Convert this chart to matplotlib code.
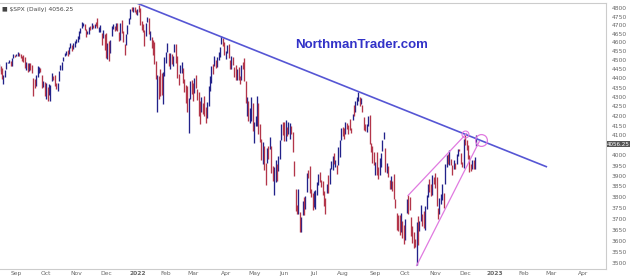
import matplotlib
matplotlib.use("Agg")
import matplotlib.pyplot as plt
import matplotlib.transforms as mtransforms
import numpy as np
import pandas as pd

# NYSE calendar for the span shown on the chart
holidays = ["2021-09-06", "2021-11-25", "2021-12-24", "2022-01-17", "2022-02-21",
            "2022-04-15", "2022-05-30", "2022-06-20", "2022-07-04", "2022-09-05",
            "2022-11-24", "2022-12-26", "2023-01-02", "2023-01-16", "2023-02-20",
            "2023-04-07"]
days = pd.bdate_range("2021-08-16", "2023-04-28", freq="C", holidays=holidays)

# daily $SPX closes, one line per month (Aug 16 2021 .. Dec 13 2022)
closes = [
    4479.7, 4448.1, 4400.3, 4405.8, 4441.7, 4479.5, 4486.2, 4496.2, 4470.0, 4509.4, 4528.8, 4522.7,
    4524.1, 4537.0, 4535.4, 4520.0, 4514.1, 4493.3, 4458.6, 4468.7, 4443.1, 4480.7, 4473.8, 4433.0,
    4357.7, 4354.2, 4395.6, 4449.0, 4455.5, 4443.1, 4352.6, 4359.5, 4307.5,
    4357.0, 4300.5, 4345.7, 4363.6, 4399.8, 4391.3, 4361.2, 4350.7, 4363.8, 4438.3, 4471.4, 4486.5,
    4519.6, 4536.2, 4549.8, 4544.9, 4566.5, 4574.8, 4551.7, 4596.4, 4605.4,
    4613.7, 4630.7, 4660.6, 4680.1, 4697.5, 4701.7, 4685.3, 4646.7, 4649.3, 4682.9, 4682.8, 4700.9,
    4688.7, 4704.5, 4698.0, 4682.9, 4690.7, 4701.5, 4594.6, 4655.3, 4567.0,
    4513.0, 4577.1, 4538.4, 4591.7, 4686.8, 4701.2, 4667.5, 4712.0, 4669.0, 4634.1, 4709.9, 4668.7,
    4620.6, 4568.0, 4649.2, 4696.6, 4725.8, 4791.2, 4786.4, 4793.1, 4778.7, 4766.2,
    4796.6, 4793.5, 4700.6, 4696.1, 4677.0, 4670.3, 4713.1, 4726.4, 4659.0, 4662.9, 4577.1, 4532.8,
    4482.7, 4397.9, 4410.1, 4356.5, 4349.9, 4326.5, 4431.9, 4515.6,
    4546.5, 4589.4, 4477.4, 4500.5, 4483.9, 4521.5, 4587.2, 4504.1, 4418.6, 4401.7, 4471.1, 4475.0,
    4380.3, 4348.9, 4304.8, 4225.5, 4288.7, 4384.7, 4373.9,
    4306.3, 4386.5, 4363.5, 4328.9, 4201.1, 4170.7, 4277.9, 4259.5, 4204.3, 4173.1, 4262.5, 4357.9,
    4411.7, 4463.1, 4461.2, 4511.6, 4456.2, 4520.2, 4543.1, 4575.5, 4631.6, 4602.5, 4530.4,
    4545.9, 4582.6, 4525.1, 4481.2, 4500.2, 4488.3, 4412.5, 4397.5, 4446.6, 4392.6, 4391.7, 4462.2,
    4459.5, 4393.7, 4271.8, 4296.1, 4175.2, 4184.0, 4287.5, 4131.9,
    4155.4, 4175.5, 4300.2, 4146.9, 4123.3, 3991.2, 4001.1, 3935.2, 3930.1, 4023.9, 4008.0, 4088.9,
    3923.7, 3900.8, 3901.4, 3973.8, 3941.5, 3978.7, 4057.8, 4158.2, 4132.2,
    4101.2, 4176.8, 4108.5, 4121.4, 4160.7, 4115.8, 4017.8, 3900.9, 3749.6, 3735.5, 3790.0, 3666.8,
    3674.8, 3764.8, 3759.9, 3795.7, 3911.7, 3900.1, 3821.6, 3818.8, 3785.4,
    3825.3, 3831.4, 3845.1, 3902.6, 3899.4, 3854.4, 3818.8, 3801.8, 3790.4, 3863.2, 3830.9, 3936.7,
    3959.9, 3999.0, 3961.6, 3966.8, 3921.1, 4023.6, 4072.4, 4130.3,
    4118.6, 4091.2, 4155.2, 4151.9, 4145.2, 4140.1, 4122.5, 4210.2, 4207.3, 4280.2, 4297.1, 4305.2,
    4274.0, 4283.7, 4228.5, 4138.0, 4128.7, 4140.8, 4199.1, 4057.7, 4030.6, 3986.2, 3955.0,
    3966.9, 3924.3, 3908.2, 3979.9, 4006.2, 4067.4, 4110.4, 3932.7, 3946.0, 3901.4, 3873.3, 3899.9,
    3855.9, 3789.9, 3758.0, 3693.2, 3655.0, 3647.3, 3719.0, 3640.5, 3585.6,
    3678.4, 3790.9, 3783.3, 3744.5, 3639.7, 3612.4, 3588.8, 3577.0, 3669.9, 3583.1, 3678.0, 3720.0,
    3695.2, 3665.8, 3752.8, 3797.3, 3859.1, 3830.6, 3807.3, 3901.1, 3872.0,
    3856.1, 3759.7, 3719.9, 3770.6, 3806.8, 3828.1, 3748.6, 3956.4, 3992.9, 3957.3, 3991.7, 3958.8,
    3946.6, 3965.3, 3949.9, 4003.6, 4027.3, 4026.1, 3963.9, 3957.6, 4080.1,
    4076.6, 4071.7, 3998.8, 3941.3, 3933.9, 3963.5, 3934.4, 3990.6, 4056.3,
]
highs = [
    4480.3, 4467.9, 4454.3, 4418.6, 4444.4, 4489.9, 4492.8, 4501.0, 4495.9, 4513.3, 4537.4, 4531.4,
    4537.1, 4545.9, 4539.0, 4535.4, 4521.8, 4529.9, 4520.5, 4492.0, 4485.7, 4486.9, 4485.9, 4471.5,
    4402.9, 4394.9, 4416.8, 4465.4, 4463.1, 4457.3, 4419.5, 4385.5, 4382.4,
    4375.2, 4355.5, 4369.2, 4365.6, 4429.0, 4412.0, 4415.9, 4374.9, 4372.9, 4439.7, 4475.8, 4488.8,
    4520.7, 4540.9, 4551.4, 4559.7, 4572.6, 4598.5, 4584.6, 4597.6, 4608.1,
    4620.3, 4635.2, 4663.5, 4683.0, 4718.5, 4714.9, 4708.5, 4679.4, 4666.0, 4688.5, 4697.4, 4714.1,
    4701.5, 4705.7, 4717.8, 4743.8, 4690.7, 4702.9, 4651.7, 4672.9, 4646.0,
    4652.9, 4595.5, 4608.0, 4612.6, 4695.3, 4705.1, 4695.3, 4713.6, 4710.3, 4660.5, 4712.6, 4731.9,
    4666.7, 4591.9, 4651.1, 4697.7, 4740.7, 4791.5, 4807.0, 4804.1, 4808.9, 4787.0,
    4796.6, 4818.6, 4797.7, 4725.0, 4707.9, 4673.0, 4714.1, 4749.0, 4744.1, 4665.1, 4632.2, 4611.6,
    4602.1, 4494.5, 4417.4, 4411.0, 4453.2, 4428.7, 4432.7, 4516.9,
    4546.5, 4595.3, 4542.9, 4539.7, 4533.9, 4524.4, 4590.0, 4588.9, 4526.3, 4426.2, 4472.8, 4489.6,
    4456.1, 4394.6, 4362.1, 4356.4, 4294.7, 4385.3, 4388.8,
    4375.4, 4401.5, 4416.8, 4342.1, 4327.0, 4276.9, 4299.4, 4268.3, 4303.0, 4247.6, 4271.1, 4358.9,
    4412.5, 4465.4, 4481.8, 4522.0, 4501.1, 4520.6, 4546.0, 4575.7, 4637.3, 4627.0, 4603.1,
    4549.0, 4583.5, 4593.5, 4503.9, 4521.2, 4520.6, 4464.4, 4471.0, 4453.9, 4460.5, 4410.4, 4471.0,
    4488.3, 4512.9, 4386.0, 4299.0, 4278.1, 4240.7, 4299.0, 4269.7,
    4169.8, 4200.1, 4307.7, 4270.4, 4157.7, 4081.3, 4066.8, 4049.1, 3964.8, 4038.9, 4046.5, 4090.7,
    4045.3, 3945.9, 3943.7, 3975.5, 3955.7, 3999.3, 4075.1, 4158.5, 4169.0,
    4166.5, 4177.5, 4142.7, 4168.8, 4164.9, 4150.0, 4119.1, 3974.4, 3838.1, 3764.5, 3837.6, 3728.2,
    3707.7, 3779.7, 3801.8, 3802.6, 3913.7, 3927.7, 3945.9, 3836.5, 3818.0,
    3829.8, 3832.2, 3871.9, 3910.6, 3918.5, 3880.9, 3873.4, 3829.4, 3796.0, 3863.6, 3902.4, 3939.8,
    3974.1, 3999.3, 4012.4, 3975.3, 3953.2, 4039.6, 4078.9, 4140.2,
    4144.9, 4140.5, 4167.7, 4161.3, 4151.6, 4186.6, 4137.5, 4211.0, 4257.9, 4280.5, 4301.8, 4325.3,
    4302.2, 4292.5, 4257.9, 4195.0, 4159.8, 4156.6, 4200.5, 4203.0, 4063.0, 4045.0, 4015.4,
    3970.2, 4018.4, 3942.6, 3987.9, 4010.5, 4076.8, 4119.3, 4038.0, 3961.9, 3950.3, 3880.9, 3900.3,
    3876.0, 3907.1, 3790.4, 3727.1, 3715.7, 3717.5, 3727.0, 3687.0, 3671.4,
    3698.4, 3791.9, 3806.9, 3797.9, 3706.0, 3665.0, 3640.7, 3608.3, 3685.4, 3712.0, 3689.7, 3762.8,
    3719.0, 3736.0, 3757.9, 3810.7, 3862.9, 3886.2, 3859.9, 3905.4, 3893.7,
    3911.8, 3894.4, 3750.6, 3796.3, 3813.9, 3859.4, 3818.0, 3958.3, 4001.5, 4008.4, 4028.8, 3983.1,
    3954.3, 3979.9, 3962.0, 4005.9, 4033.8, 4034.0, 4012.3, 3966.4, 4080.1,
    4100.5, 4076.8, 4052.5, 4001.5, 3957.6, 3977.0, 3977.0, 3990.7, 4101.0,
]
lows = [
    4437.7, 4421.6, 4397.6, 4367.7, 4406.8, 4450.0, 4482.7, 4485.7, 4468.9, 4468.4, 4513.8, 4515.8,
    4522.0, 4524.7, 4522.7, 4513.0, 4493.9, 4492.1, 4457.7, 4445.4, 4435.5, 4438.4, 4443.8, 4427.8,
    4305.9, 4347.9, 4360.2, 4406.8, 4430.3, 4436.2, 4346.3, 4355.1, 4306.9,
    4288.5, 4278.9, 4309.9, 4278.9, 4385.0, 4389.9, 4360.6, 4342.0, 4329.9, 4386.8, 4447.5, 4447.5,
    4496.4, 4524.4, 4526.7, 4524.0, 4537.4, 4569.2, 4551.7, 4562.1, 4573.0,
    4595.1, 4604.6, 4621.2, 4655.1, 4681.3, 4694.4, 4670.9, 4630.9, 4648.7, 4650.8, 4672.9, 4679.4,
    4684.4, 4681.2, 4694.2, 4682.2, 4662.7, 4659.9, 4584.7, 4625.3, 4560.0,
    4510.3, 4504.7, 4495.1, 4540.5, 4634.0, 4674.5, 4665.9, 4670.2, 4667.6, 4606.5, 4611.2, 4651.9,
    4600.2, 4531.1, 4583.2, 4645.5, 4703.8, 4733.9, 4780.0, 4778.1, 4775.3, 4765.3,
    4758.2, 4774.3, 4699.4, 4671.3, 4662.7, 4582.2, 4638.3, 4716.0, 4650.3, 4614.8, 4568.7, 4530.2,
    4477.0, 4395.3, 4222.6, 4287.1, 4304.8, 4309.5, 4264.7, 4414.0,
    4483.5, 4544.3, 4470.4, 4451.5, 4476.5, 4467.5, 4548.7, 4484.3, 4401.4, 4364.8, 4429.3, 4429.7,
    4373.8, 4327.2, 4267.1, 4221.5, 4114.7, 4286.8, 4315.1,
    4279.5, 4322.8, 4345.6, 4284.9, 4199.9, 4157.9, 4223.1, 4209.8, 4200.5, 4161.7, 4187.9, 4251.9,
    4329.4, 4372.9, 4424.3, 4469.1, 4455.8, 4465.2, 4501.1, 4517.7, 4589.7, 4581.3, 4530.4,
    4507.6, 4539.7, 4514.2, 4450.0, 4450.3, 4474.6, 4408.4, 4390.6, 4392.7, 4390.8, 4370.3, 4390.1,
    4448.8, 4384.5, 4267.6, 4200.8, 4175.0, 4162.9, 4173.0, 4124.3,
    4062.5, 4147.1, 4148.9, 4106.0, 4067.9, 3975.5, 3958.2, 3928.8, 3858.9, 3963.2, 3983.0, 4033.9,
    3911.9, 3876.6, 3810.3, 3868.9, 3875.1, 3925.0, 3984.6, 4077.4, 4104.9,
    4073.9, 4074.4, 4098.7, 4109.2, 4080.2, 4110.0, 4017.2, 3900.2, 3734.3, 3721.6, 3722.3, 3639.8,
    3636.9, 3715.3, 3717.7, 3743.5, 3821.8, 3889.7, 3820.1, 3799.0, 3738.7,
    3752.1, 3742.1, 3809.4, 3858.2, 3869.3, 3847.2, 3810.0, 3758.9, 3721.6, 3817.2, 3818.6, 3860.7,
    3936.0, 3927.6, 3955.8, 3943.5, 3910.7, 3951.4, 3992.9, 4079.2,
    4096.0, 4079.8, 4107.2, 4135.4, 4107.3, 4128.9, 4112.1, 4177.3, 4201.4, 4219.8, 4256.9, 4277.8,
    4253.1, 4261.9, 4218.7, 4129.9, 4124.0, 4119.4, 4147.6, 4057.7, 4017.4, 3965.2, 3954.5,
    3903.7, 3906.2, 3886.8, 3906.0, 3944.8, 4022.9, 4083.7, 3921.2, 3912.6, 3894.1, 3837.1, 3838.5,
    3827.5, 3789.5, 3749.4, 3647.5, 3644.8, 3623.3, 3640.7, 3610.4, 3584.1,
    3604.9, 3726.5, 3722.7, 3739.2, 3620.7, 3588.1, 3568.5, 3569.9, 3491.6, 3579.7, 3644.2, 3686.5,
    3666.8, 3656.4, 3647.4, 3741.7, 3799.4, 3824.1, 3803.8, 3808.3, 3863.2,
    3843.8, 3758.7, 3698.2, 3721.6, 3764.7, 3786.3, 3746.5, 3859.9, 3944.8, 3956.4, 3953.2, 3954.3,
    3906.5, 3935.0, 3933.3, 3956.9, 3998.7, 4020.8, 3955.8, 3944.8, 3938.6,
    4050.9, 4026.6, 3984.5, 3918.4, 3922.7, 3933.0, 3933.0, 3935.3, 4049.0,
]
last_price = 4056.25

# y axis ticks (4050 sits under the last-price tag) and month labels on the x axis
price_ticks = [t for t in range(3500, 4801, 50) if t != 4050]
month_labels = ["Sep", "Oct", "Nov", "Dec", "2022", "Feb", "Mar", "Apr", "May", "Jun", "Jul",
                "Aug", "Sep", "Oct", "Nov", "Dec", "2023", "Feb", "Mar", "Apr"]

# drawn trendlines (date, price)
trend_pts = [("2021-12-30", 4835), ("2023-02-24", 3945)]
wedge_top = [("2022-10-05", 3807), ("2022-12-02", 4110)]
wedge_bottom = [("2022-10-13", 3491), ("2022-12-15", 4070)]
circle_small = ("2022-12-01", 4110)
circle_big = ("2022-12-16", 4075)

UP = "#22228a"
DOWN = "#b3364a"
TREND = "#5656d4"
WEDGE = "#e07ae0"


def pos(d):
    return days.get_loc(pd.Timestamp(d))


fig = plt.figure(figsize=(6.3, 2.76), dpi=100)
ax = fig.add_axes([0, 7 / 276, 606 / 630, 266 / 276])

c = np.array(closes)
h = np.array(highs)
lo = np.array(lows)
x = np.arange(len(c))
prev = np.r_[c[0] - 1, c[:-1]]
up = c >= prev
ax.vlines(x[up], lo[up], h[up], color=UP, lw=0.95)
ax.vlines(x[~up], lo[~up], h[~up], color=DOWN, lw=0.95)

ax.plot([pos(d) for d, _ in trend_pts], [p for _, p in trend_pts], color=TREND, lw=1.2)
for seg in (wedge_top, wedge_bottom):
    ax.plot([pos(d) for d, _ in seg], [p for _, p in seg], color=WEDGE, lw=0.9)
ax.plot(pos(circle_small[0]), circle_small[1], "o", mfc="none", mec=WEDGE, ms=5, mew=0.8)
ax.plot(pos(circle_big[0]), circle_big[1], "o", mfc="none", mec=WEDGE, ms=8.5, mew=0.9)

ax.set_yscale("log")
ax.set_ylim(3476, 4830)
ax.set_xlim(0.6, 425.9)
ax.yaxis.tick_right()
ax.set_yticks(price_ticks)
ax.set_yticklabels([str(t) for t in price_ticks])
ax.yaxis.set_minor_locator(matplotlib.ticker.NullLocator())
ax.tick_params(axis="y", length=0, pad=4, labelsize=4.3, labelcolor="#666666")

# month ticks at the first trading day of each month
firsts = pd.Series(np.arange(len(days)), index=days).groupby(days.to_period("M")).first()
firsts = firsts[firsts.index >= pd.Period("2021-09", "M")]
ax.set_xticks(firsts.values)
ax.set_xticklabels(month_labels)
for lab in ax.get_xticklabels():
    if lab.get_text().isdigit():
        lab.set_fontweight("bold")
        lab.set_color("#333333")
ax.tick_params(axis="x", length=0, pad=1.5, labelsize=4.3, labelcolor="#666666")

for side in ("top", "bottom", "right"):
    ax.spines[side].set_color("#cccccc")
    ax.spines[side].set_linewidth(0.8)
ax.spines["left"].set_visible(False)

ax.text(0.003, 0.985, "\u25a0 $SPX (Daily) 4056.25", transform=ax.transAxes,
        ha="left", va="top", fontsize=4.3, color="#444444")
ax.text(0.597, 0.842, "NorthmanTrader.com", transform=ax.transAxes, ha="center",
        va="center", fontsize=9.5, fontweight="bold", color="#3232c8", family="Liberation Sans")

tr = mtransforms.blended_transform_factory(ax.transAxes, ax.transData)
ax.text(1.002, last_price, "4056.25", transform=tr, ha="left", va="center", fontsize=4.1,
        color="white", bbox=dict(boxstyle="square,pad=0.12", fc="#555555", ec="none"))

fig.savefig("out.png", dpi=100)
